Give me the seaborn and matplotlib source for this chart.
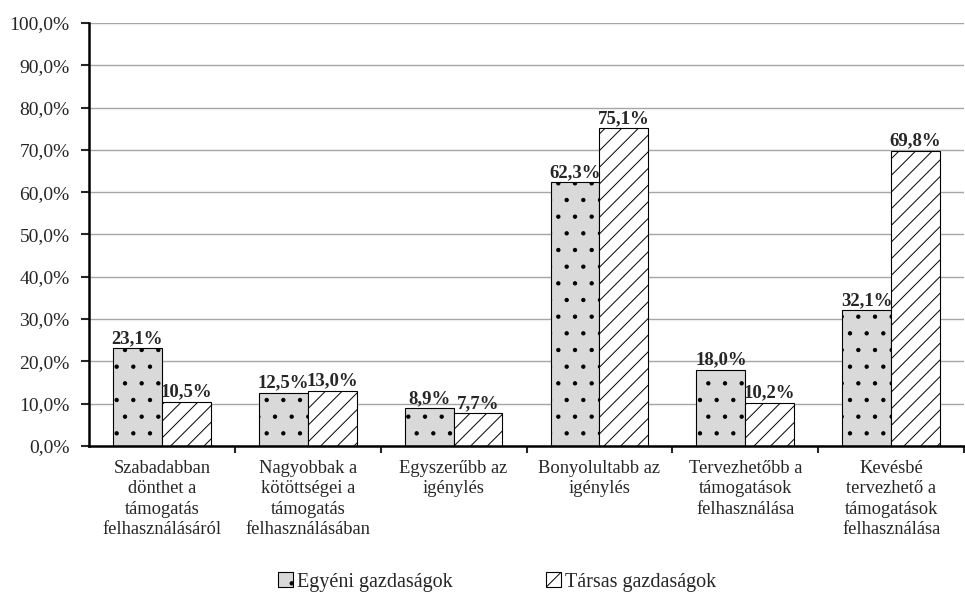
import seaborn as sns
import matplotlib.pyplot as plt
import pandas as pd
from matplotlib.patches import Patch
from matplotlib.ticker import FuncFormatter, FixedLocator

# Chart data
categories = [
    "Szabadabban\ndönthet a\ntámogatás\nfelhasználásáról",
    "Nagyobbak a\nkötöttségei a\ntámogatás\nfelhasználásában",
    "Egyszerűbb az\nigénylés",
    "Bonyolultabb az\nigénylés",
    "Tervezhetőbb a\ntámogatások\nfelhasználása",
    "Kevésbé\ntervezhető a\ntámogatások\nfelhasználása",
]
series_names = ["Egyéni gazdaságok", "Társas gazdaságok"]
egyeni = [23.1, 12.5, 8.9, 62.3, 18.0, 32.1]
tarsas = [10.5, 13.0, 7.7, 75.1, 10.2, 69.8]
y_ticks = [0, 10, 20, 30, 40, 50, 60, 70, 80, 90, 100]

df = pd.DataFrame({
    "kategoria": categories * 2,
    "sorozat": [series_names[0]] * len(categories) + [series_names[1]] * len(categories),
    "ertek": egyeni + tarsas,
})

sns.set_style("white")
plt.rcParams["font.family"] = ["Liberation Serif", "DejaVu Serif"]
plt.rcParams["hatch.linewidth"] = 0.7

fig = plt.figure(figsize=(9.65, 5.94), dpi=100)
ax = fig.add_axes([0.0922, 0.2492, 0.9068, 0.7121])

sns.barplot(
    data=df, x="kategoria", y="ertek", hue="sorozat",
    order=categories, hue_order=series_names,
    palette=["#d9d9d9", "#ffffff"], width=0.67,
    edgecolor="black", linewidth=0.8, legend=False, ax=ax,
)

hatches = [".", "//"]
for cont, h in zip(ax.containers, hatches):
    for bar in cont:
        bar.set_hatch(h)
    ax.bar_label(cont, labels=[f"{v:.1f}%".replace(".", ",") for v in cont.datavalues],
                 fontsize=13.5, fontweight="bold", padding=1)

# y axis
ax.set_ylim(0, 100)
ax.yaxis.set_major_locator(FixedLocator(y_ticks))
ax.yaxis.set_major_formatter(FuncFormatter(lambda v, p: f"{v:.1f}%".replace(".", ",")))
ax.grid(axis="y", color="#a6a6a6", linewidth=1)
ax.set_axisbelow(True)
ax.tick_params(axis="y", which="major", left=True, length=6, width=1.5,
               pad=8, labelsize=14, direction="out")

# x axis: labels at centres, ticks at category boundaries
ax.set_xlim(-0.5, len(categories) - 0.5)
ax.tick_params(axis="x", which="major", length=0, pad=10, labelsize=13.3)
ax.set_xticks([i + 0.5 for i in range(len(categories))], minor=True)
ax.tick_params(axis="x", which="minor", bottom=True, length=5, width=1.5, direction="out")
for lbl in ax.get_xticklabels():
    lbl.set_linespacing(1.27)

ax.set_xlabel("")
ax.set_ylabel("")
for side in ["top", "right"]:
    ax.spines[side].set_visible(False)
for side in ["left", "bottom"]:
    ax.spines[side].set_color("black")
    ax.spines[side].set_linewidth(1.8)

handles = [
    Patch(facecolor="#d9d9d9", edgecolor="black", hatch=".", linewidth=0.8),
    Patch(facecolor="white", edgecolor="black", hatch="//", linewidth=0.8),
]
fig.legend(handles, series_names, loc="center", bbox_to_anchor=(0.515, 0.02),
           ncol=2, frameon=False, fontsize=14.5, handlelength=0.75, handleheight=0.75,
           handletextpad=0.2, columnspacing=4.6)

fig.savefig("out.png", dpi=100)
